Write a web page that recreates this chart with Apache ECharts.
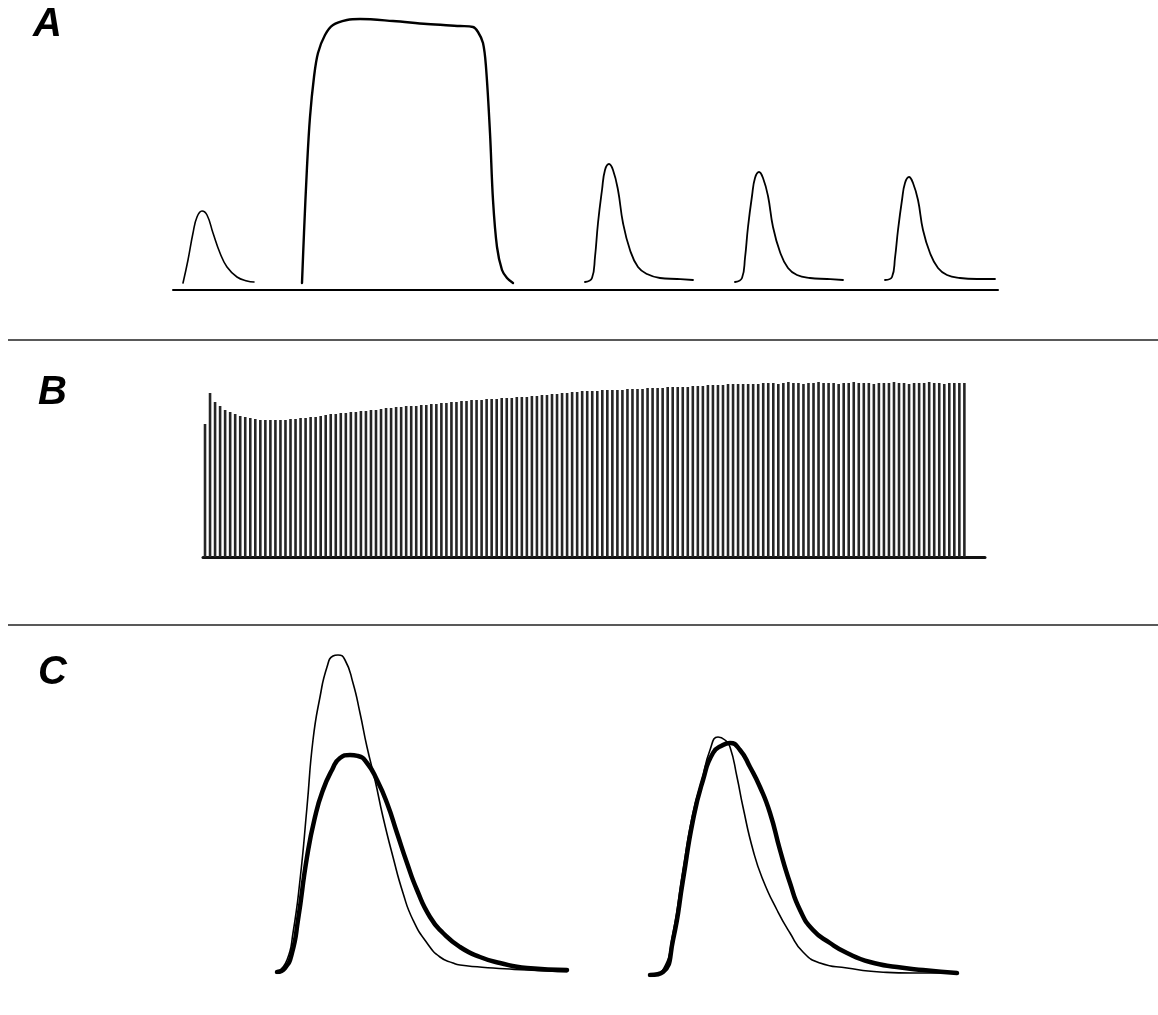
<!DOCTYPE html>
<html>
<head>
<meta charset="utf-8">
<script src="https://cdn.jsdelivr.net/npm/echarts@6/dist/echarts.min.js"></script>
<style>
  html, body { margin: 0; padding: 0; background: #fff; }
  #chart { width: 1158px; height: 1015px; }
</style>
</head>
<body>
<div id="chart"></div>
<script>
// panel A: five responses, [time ms, amplitude]
const aPeak1 = [[10,7],[15,30],[20,57],[24,73],[29,79],[34,75],[40,57],[47,37],[54,23],[64,13],[74,9],[81,8]];
const aPlateau = [[129,7],[131,57],[134,123],[137,173],[141,213],[145,237],[152,255],[160,265],[174,270],[187,271],
  [220,269],[254,266],[287,264],[300,263],[305,258],[310,247],[313,223],[317,157],[320,90],[324,43],[329,20],[334,12],[340,7]];
const aPeak2 = [[412,8],[419,12],[422,33],[425,67],[429,100],[432,120],[436,126],[440,120],[445,100],[450,67],[457,40],[465,23],[474,16],[487,12],[504,11],[520,10]];
const aPeak3 = [[562,8],[569,12],[572,32],[575,63],[579,94],[582,112],[586,118],[590,112],[595,94],[600,63],[607,38],[615,22],[624,15],[637,12],[654,11],[670,10]];
const aPeak4 = [[712,10],[719,13],[722,32],[725,60],[729,90],[732,107],[736,113],[740,107],[745,90],[750,60],[757,37],[765,22],[774,15],[787,12],[804,11],[822,11]];

// panel B: peak amplitude of each response in the train
const bPeaks = [
  133,164,155,151,147,145,143,141,140,139,138,137,137,137,137,137,137,138,138,139,
  139,140,140,141,142,143,143,144,144,145,145,146,146,147,147,148,149,149,150,150,
  151,151,151,152,152,153,153,154,154,155,155,156,156,157,157,157,158,158,158,159,
  159,159,160,160,160,161,161,162,162,163,163,164,164,165,165,166,166,166,166,167,
  167,167,167,167,168,168,168,168,169,169,169,169,170,170,170,170,170,171,171,171,
  172,172,172,172,173,173,173,173,173,173,173,174,174,174,173,174,175,174,174,173,
  174,174,175,174,174,174,173,174,174,175,174,174,174,173,174,174,174,175,174,174,
  173,174,174,174,175,174,174,173,174,174,174,174
];

// panel C: control (thin) vs treated (thick), two pairs
const cLeftThin = [[1,0],[10,12],[16,39],[23,92],[30,165],[36,232],[43,275],[50,305],[56,316],[61,317],[68,312],[76,289],[83,259],
  [90,225],[98,192],[106,155],[116,115],[126,79],[136,52],[150,29],[163,15],[176,9],[183,7],[216,4],[250,2],[290,0]];
const cLeftThick = [[0,0],[8,4],[15,19],[21,52],[30,115],[38,155],[46,182],[55,202],[63,214],[73,217],[81,216],[90,209],[100,192],
  [110,169],[120,139],[130,109],[140,82],[153,55],[166,39],[183,25],[203,15],[223,9],[250,4],[290,2]];
const cRightThin = [[2,0],[13,5],[23,42],[33,105],[43,162],[52,195],[60,225],[68,238],[75,235],[80,228],[87,198],[93,168],[103,125],
  [113,95],[127,65],[140,42],[153,23],[170,12],[197,7],[230,3],[263,2],[307,2]];
const cRightThick = [[0,0],[13,3],[23,35],[33,95],[43,155],[53,195],[63,222],[73,230],[80,232],[90,225],[100,208],[110,188],[120,162],
  [130,125],[140,92],[150,65],[163,45],[180,32],[197,22],[220,13],[247,8],[273,5],[307,2]];

const chart = echarts.init(document.getElementById('chart'));

const hidden = { show: false };
function valueAxis(grid, min, max, line) {
  return {
    type: 'value', gridIndex: grid, min: min, max: max,
    axisLine: line ? { show: true, onZero: false, lineStyle: line } : hidden,
    axisTick: hidden, axisLabel: hidden, splitLine: hidden
  };
}
function trace(grid, data, width, smooth) {
  return {
    type: 'line', xAxisIndex: grid, yAxisIndex: grid, data: data,
    showSymbol: false, smooth: smooth || 0.45,
    lineStyle: { color: '#000', width: width, join: 'round', cap: 'round' }, silent: true
  };
}
const labelStyle = { fontFamily: 'Liberation Sans, Arial', fontSize: 40, fontWeight: 'bold', fontStyle: 'italic', color: '#000' };

chart.setOption({
  backgroundColor: '#fff',
  animation: false,
  title: [
    { text: 'A', left: 28, top: 0, textStyle: labelStyle },
    { text: 'B', left: 33, top: 368, textStyle: labelStyle },
    { text: 'C', left: 33, top: 648, textStyle: labelStyle }
  ],
  grid: [
    { left: 173, width: 825, top: 10, height: 280 },
    { left: 203, width: 782, top: 377, height: 180 },
    { left: 277, width: 295, top: 642, height: 330 },
    { left: 650, width: 310, top: 645, height: 330 }
  ],
  xAxis: [
    valueAxis(0, 0, 825, { color: '#000', width: 2 }),
    valueAxis(1, -0.4, 155.1, { color: '#111', width: 3 }),
    valueAxis(2, 0, 295),
    valueAxis(3, 0, 310)
  ],
  yAxis: [
    valueAxis(0, 0, 280),
    valueAxis(1, 0, 180),
    valueAxis(2, 0, 330),
    valueAxis(3, 0, 330)
  ],
  graphic: [
    { type: 'line', shape: { x1: 8, y1: 340, x2: 1158, y2: 340 }, style: { stroke: '#222', lineWidth: 1.5 } },
    { type: 'line', shape: { x1: 8, y1: 625, x2: 1158, y2: 625 }, style: { stroke: '#222', lineWidth: 1.5 } }
  ],
  series: [
    trace(0, aPeak1, 1.6),
    trace(0, aPlateau, 2.4, 0.35),
    trace(0, aPeak2, 1.8),
    trace(0, aPeak3, 1.8),
    trace(0, aPeak4, 1.8),
    {
      type: 'bar', xAxisIndex: 1, yAxisIndex: 1, barWidth: 2.6,
      data: bPeaks.map((h, i) => [i, h]),
      itemStyle: { color: '#262626' }, silent: true
    },
    trace(2, cLeftThin, 1.6, 0.55),
    trace(2, cLeftThick, 4.5, 0.55),
    trace(3, cRightThin, 1.6, 0.55),
    trace(3, cRightThick, 4.5, 0.55)
  ]
});
</script>
</body>
</html>
